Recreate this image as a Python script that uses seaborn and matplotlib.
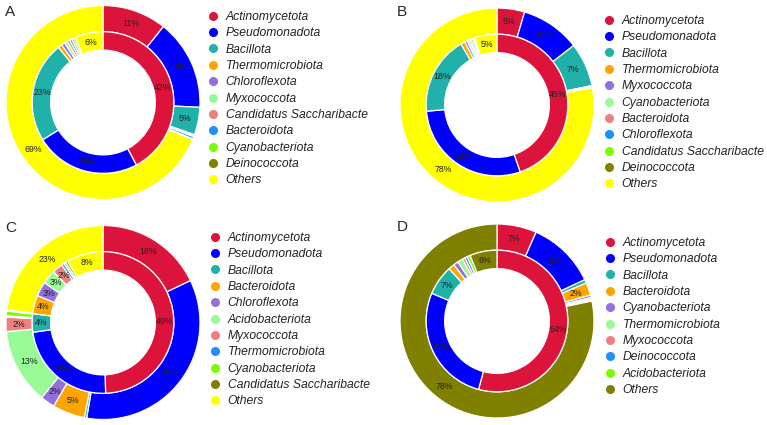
import numpy as np
import matplotlib
matplotlib.use("Agg")
import matplotlib.pyplot as plt
import seaborn as sns
from matplotlib.lines import Line2D
from matplotlib.transforms import Bbox, TransformedBbox

sns.set_theme(style="white")
plt.rcParams['font.family'] = ['Liberation Sans', 'DejaVu Sans']

# palette used by all four panels (by position in the legend)
colors = sns.color_palette(["#DC143C", "#0000FF", "#20B2AA", "#FFA500", "#9370DB",
                            "#98FB98", "#F08080", "#1E90FF", "#7CFC00", "#808000",
                            "#FFFF00"])

# Panel A
taxa_a = ["Actinomycetota", "Pseudomonadota", "Bacillota", "Thermomicrobiota",
          "Chloroflexota", "Myxococcota", "Candidatus Saccharibacteria",
          "Bacteroidota", "Cyanobacteriota", "Deinococcota", "Others"]
inner_a = [42.2, 24.0, 23.0, 0.9, 0.8, 0.7, 0.6, 0.5, 0.5, 0.4, 6.4]
outer_a = [10.7, 15.1, 4.6, 0.1, 0.1, 0.1, 0.05, 0.4, 0.05, 0.05, 68.75]

# Panel B
taxa_b = ["Actinomycetota", "Pseudomonadota", "Bacillota", "Thermomicrobiota",
          "Myxococcota", "Cyanobacteriota", "Bacteroidota", "Chloroflexota",
          "Candidatus Saccharibacteria", "Deinococcota", "Others"]
inner_b = [44.7, 28.9, 17.9, 1.0, 0.6, 0.5, 0.4, 0.4, 0.3, 0.2, 5.1]
outer_b = [4.6, 9.9, 7.3, 0.05, 0.05, 0.05, 0.05, 0.05, 0.05, 0.05, 77.85]

# Panel C
taxa_c = ["Actinomycetota", "Pseudomonadota", "Bacillota", "Bacteroidota",
          "Chloroflexota", "Acidobacteriota", "Myxococcota", "Thermomicrobiota",
          "Cyanobacteriota", "Candidatus Saccharibacteria", "Others"]
inner_c = [49.4, 23.4, 4.2, 4.2, 3.3, 3.2, 2.4, 0.6, 0.5, 0.5, 8.3]
outer_c = [17.9, 34.8, 0.4, 5.4, 2.4, 12.6, 2.4, 0.2, 0.8, 0.2, 22.9]

# Panel D
taxa_d = ["Actinomycetota", "Pseudomonadota", "Bacillota", "Bacteroidota",
          "Cyanobacteriota", "Thermomicrobiota", "Myxococcota", "Deinococcota",
          "Acidobacteriota", "Others"]
inner_d = [54.2, 27.2, 6.8, 1.4, 1.1, 1.2, 0.6, 0.6, 0.7, 6.2]
outer_d = [6.6, 11.4, 0.6, 2.1, 0.4, 0.3, 0.1, 0.1, 0.1, 78.3]

# letter, names, inner ring, outer ring, pie centre, legend corner, letter pos
panels = [
    ("A", taxa_a, inner_a, outer_a, (103, 102.5), (207, 11), (5, 12)),
    ("B", taxa_b, inner_b, outer_b, (497, 105), (603, 15), (397, 12)),
    ("C", taxa_c, inner_c, outer_c, (103, 322.5), (209, 232), (5, 228)),
    ("D", taxa_d, inner_d, outer_d, (497, 321), (604, 237), (397, 227)),
]

W, H = 767, 425
R = 97
fig = plt.figure(figsize=(W / 100, H / 100), dpi=100)


def pct_label(p):
    return f"{p:.0f}%" if p >= 1.5 else ""


for letter, taxa, inner, outer, (cx, cy), (lx, ly), (tx, ty) in panels:
    ax = fig.add_axes([(cx - R) / W, (H - cy - R) / H, 2 * R / W, 2 * R / H])
    pal = colors[:len(taxa)]
    wp = dict(edgecolor="white", linewidth=0.9)
    tp = dict(fontsize=6.3, color="#222222")
    ax.pie(outer, radius=1.0, colors=pal, startangle=90, counterclock=False,
           wedgeprops=dict(width=0.27, **wp), autopct=pct_label,
           pctdistance=0.865, textprops=tp)
    ax.pie(inner, radius=0.73, colors=pal, startangle=90, counterclock=False,
           wedgeprops=dict(width=0.19, **wp), autopct=pct_label,
           pctdistance=0.87, textprops=tp)
    ax.set_xlim(-1, 1)
    ax.set_ylim(-1, 1)
    ax.set_aspect("equal")
    ax.axis("off")

    fig.text(tx / W, 1 - ty / H, letter, fontsize=11, ha="left", va="center")

    handles = [Line2D([], [], marker="o", linestyle="none", markersize=5.5,
                      markerfacecolor=c, markeredgecolor=c) for c in pal]
    leg = ax.legend(handles, taxa, loc="upper left",
                    bbox_to_anchor=(lx / W, 1 - ly / H),
                    bbox_transform=fig.transFigure, frameon=False,
                    fontsize=8.7, handlelength=1.0, handletextpad=0.55,
                    labelspacing=0.36, borderpad=0, borderaxespad=0)
    # the source figure cuts the long name at the edge of its legend box
    clip_right = (lx + 161) / W
    for t in leg.get_texts():
        t.set_fontstyle("italic")
        t.set_color("#222222")
        t.set_clip_box(TransformedBbox(Bbox.from_extents(0, 0, clip_right, 1),
                                       fig.transFigure))
        t.set_clip_on(True)

fig.savefig("out.png", dpi=100)
